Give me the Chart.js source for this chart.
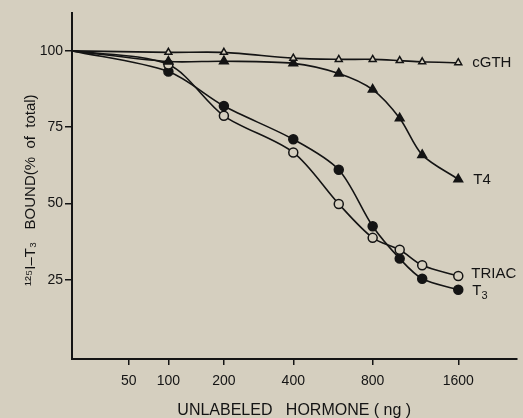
<!DOCTYPE html>
<html>
<head>
<meta charset="utf-8">
<script src="https://cdn.jsdelivr.net/npm/chart.js@4/dist/chart.umd.min.js"></script>
<style>
  body { margin: 0; background: #d5cfbf; }
  canvas { display: block; }
</style>
</head>
<body>
<canvas id="binding-chart" width="523" height="418"></canvas>
<script>
    // doses in ng; the axis of the original is log(dose + offset)
    var doses = [0, 100, 200, 400, 600, 800, 1000, 1200, 1600];
    var doseTicks = [50, 100, 200, 400, 800, 1600];
    var boundTicks = [25, 50, 75, 100];
    var doseOffset = 95;

    var seriesNames = ["cGTH", "T4", "TRIAC", "T3"];
    var nameSubscripts = ["", "", "", "3"]; // trailing chars drawn as subscript
    var cgthBound = [100, 99.5, 99.5, 97.6, 97.2, 97.2, 96.8, 96.4, 96.1];
    var t4Bound = [100, 96.5, 96.6, 95.9, 92.6, 87.3, 77.9, 65.9, 57.9];
    var triacBound = [100, 95.5, 78.7, 66.7, 49.8, 38.7, 34.8, 29.7, 26.2];
    var t3Bound = [100, 93.2, 81.9, 71.0, 61.0, 42.5, 31.9, 25.3, 21.7];

    var paper = "#d5cfbf";
    var ink = "#141414";

    function points(values) {
        return doses.map(function(d, i) {
            return { x: d + doseOffset, y: values[i] };
        });
    }

    function radii(r) {
        return doses.map(function(d) { return d === 0 ? 0 : r; });
    }

    function series(label, values, style, radius, filled) {
        return {
            label: label,
            data: points(values),
            borderColor: ink,
            borderWidth: 1.6,
            tension: 0.3,
            pointStyle: style,
            pointRadius: radii(radius),
            pointBorderWidth: 1.5,
            pointBorderColor: ink,
            pointBackgroundColor: filled ? ink : paper,
            fill: false
        };
    }

    // series names written at the right end of each curve
    var endLabels = {
        id: "endLabels",
        afterDatasetsDraw: function(chart) {
            var ctx = chart.ctx;
            var shifts = [[14, 0], [15, 1], [13, -2], [14, 1]];
            ctx.save();
            ctx.fillStyle = ink;
            ctx.textBaseline = "middle";
            ctx.textAlign = "left";
            chart.data.datasets.forEach(function(ds, i) {
                var meta = chart.getDatasetMeta(i);
                var last = meta.data[meta.data.length - 1];
                var name = seriesNames[i];
                var sub = nameSubscripts[i];
                var base = sub ? name.slice(0, name.length - sub.length) : name;
                var x = last.x + shifts[i][0];
                var y = last.y + shifts[i][1];
                ctx.font = "15px 'Liberation Sans'";
                ctx.fillText(base, x, y);
                if (sub) {
                    var w = ctx.measureText(base).width;
                    ctx.font = "11px 'Liberation Sans'";
                    ctx.fillText(sub, x + w, y + 5);
                }
            });
            ctx.restore();
        }
    };

    var context = document.getElementById("binding-chart");
    window.myChart = new Chart(context, {
        type: "line",
        data: {
            datasets: [
                series(seriesNames[0], cgthBound, "triangle", 4, false),
                series(seriesNames[1], t4Bound, "triangle", 5, true),
                series(seriesNames[2], triacBound, "circle", 4.5, false),
                series(seriesNames[3], t3Bound, "circle", 4.5, true)
            ]
        },
        options: {
            responsive: false,
            animation: false,
            layout: { padding: { top: 13, right: 3, left: 0, bottom: 0 } },
            plugins: {
                legend: { display: false },
                tooltip: { enabled: false }
            },
            scales: {
                x: {
                    type: "logarithmic",
                    min: doseOffset,
                    max: 2617,
                    afterFit: function(scale) { scale.height = 59; },
                    afterBuildTicks: function(scale) {
                        scale.ticks = doseTicks.map(function(v) { return { value: v + doseOffset }; });
                    },
                    border: { display: true, color: ink, width: 2 },
                    grid: { drawOnChartArea: false, drawTicks: true, tickLength: 6, color: ink, lineWidth: 1.5 },
                    ticks: {
                        color: ink,
                        autoSkip: false,
                        maxRotation: 0,
                        padding: 8,
                        font: { family: "'Liberation Sans'", size: 14 },
                        callback: function(value) { return String(Math.round(value - doseOffset)); }
                    },
                    title: {
                        display: true,
                        text: "UNLABELED   HORMONE ( ng )",
                        color: ink,
                        font: { family: "'Liberation Sans'", size: 16 },
                        padding: { top: 0, bottom: -2 }
                    }
                },
                y: {
                    min: -1,
                    max: 112.4,
                    afterFit: function(scale) { scale.width = 72; },
                    afterBuildTicks: function(scale) {
                        scale.ticks = boundTicks.map(function(v) { return { value: v }; });
                    },
                    border: { display: true, color: ink, width: 2 },
                    grid: { drawOnChartArea: false, drawTicks: true, tickLength: 7, color: ink, lineWidth: 1.5 },
                    ticks: {
                        color: ink,
                        padding: 2,
                        font: { family: "'Liberation Sans'", size: 14 }
                    },
                    title: {
                        display: true,
                        text: "\u00b9\u00b2\u2075I\u2013T\u2083   BOUND(%  of  total)  ",
                        color: ink,
                        font: { family: "'Liberation Sans'", size: 15 },
                        padding: { top: 22, bottom: 0 }
                    }
                }
            }
        },
        plugins: [endLabels]
    });
</script>
</body>
</html>
